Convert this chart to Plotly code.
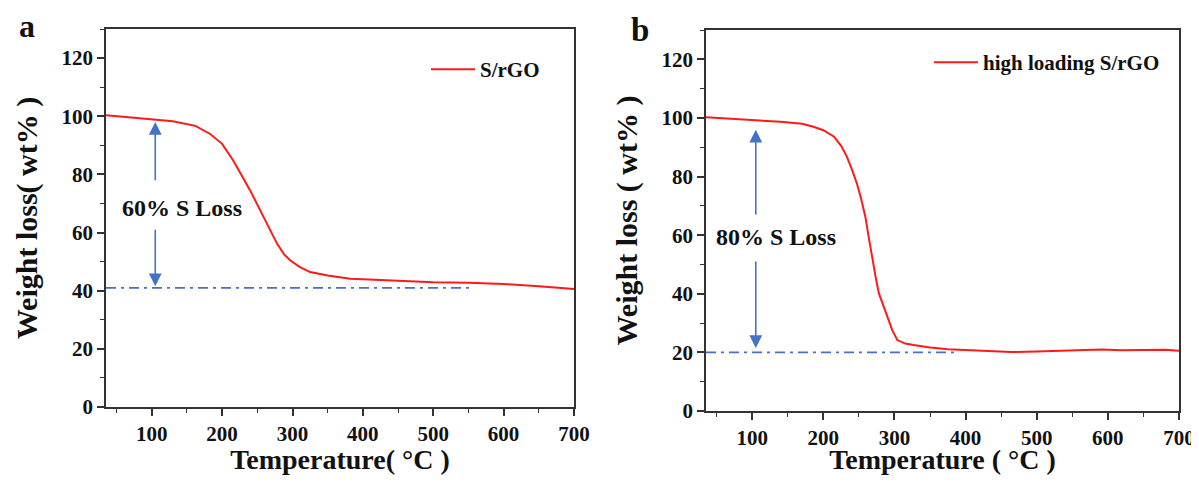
import plotly.graph_objects as go

# TGA curves
temp_a = [35, 60, 98, 130, 162, 183, 200, 216, 228, 240, 259, 278, 288, 297, 310,
          325, 350, 382, 400, 450, 500, 550, 600, 650, 700]
weight_a = [100.3, 99.8, 98.8, 98.3, 96.7, 93.9, 90.5, 84.7, 79.5, 74.4, 65.3, 56.2,
            52.5, 50.4, 48.2, 46.4, 45.2, 44.1, 43.9, 43.3, 42.9, 42.7, 42.3, 41.5, 40.6]

temp_b = [35, 60, 100, 140, 170, 186, 200, 215, 225, 233, 240, 247, 253, 259, 264,
          269, 274, 278, 284, 290, 297, 304, 315, 327, 350, 375, 400, 430, 464, 500,
          550, 591, 620, 650, 680, 700]
weight_b = [100.2, 99.9, 99.2, 98.7, 98.0, 97.0, 95.8, 93.6, 90.5, 86.8, 82.5, 77.7,
            72.5, 66.3, 59.0, 51.5, 45.0, 40.2, 36.0, 32.2, 27.5, 24.2, 23.0, 22.5,
            21.7, 21.1, 20.8, 20.4, 20.1, 20.3, 20.6, 21.0, 20.7, 20.8, 20.9, 20.6]

# residual levels (dash-dot guides) and loss arrows
resid_a_x = [35, 555]
resid_a_y = [41, 41]
resid_b_x = [35, 390]
resid_b_y = [20, 20]

arrow_x = 105
arrows_a = [(77.5, 98.0), (61.5, 41.5)]   # (tail, head)
arrows_b = [(66.5, 96.0), (51.5, 21.5)]

RED = "#ff1a1a"
BLUE = "#4472c4"
FONT = "Liberation Serif"
DASHDOT = "10px,5px,3px,5px"

# the page body adds an 8px margin, so the figure is a bit smaller than the window
OFF = 8
W, H = 1199 - OFF, 483 - 2 * OFF


def fx(px):
    return (px - OFF) / W


def fy(py):
    return 1 - (py - OFF) / H


def bold(size):
    return dict(family=FONT, size=size, color="#111111", weight="bold")


fig = go.Figure()
fig.add_trace(go.Scatter(x=temp_a, y=weight_a, mode="lines", name="S/rGO",
                         line=dict(color=RED, width=2), xaxis="x", yaxis="y",
                         legend="legend"))
fig.add_trace(go.Scatter(x=resid_a_x, y=resid_a_y, mode="lines", showlegend=False,
                         line=dict(color=BLUE, width=1.8, dash=DASHDOT),
                         xaxis="x", yaxis="y"))
fig.add_trace(go.Scatter(x=temp_b, y=weight_b, mode="lines", name="high loading S/rGO",
                         line=dict(color=RED, width=2), xaxis="x2", yaxis="y2",
                         legend="legend2"))
fig.add_trace(go.Scatter(x=resid_b_x, y=resid_b_y, mode="lines", showlegend=False,
                         line=dict(color=BLUE, width=1.8, dash=DASHDOT),
                         xaxis="x2", yaxis="y2"))

axis_common = dict(
    showline=True, linecolor="#333333", linewidth=1.6, mirror=True,
    ticks="outside", ticklen=7, tickwidth=1.5, tickcolor="#333333",
    showgrid=False, zeroline=False, automargin=False,
    tickfont=bold(21),
    minor=dict(ticks="outside", ticklen=4, tickwidth=1.3, tickcolor="#333333"),
)

fig.update_layout(
    width=W, height=H,
    margin=dict(l=0, r=0, t=0, b=0),
    paper_bgcolor="white", plot_bgcolor="white",
    xaxis=dict(axis_common, domain=[fx(106), fx(574)], range=[35, 700],
               dtick=100, minor_dtick=50, anchor="y",
               title=dict(text="Temperature( °C )", font=bold(28))),
    yaxis=dict(axis_common, domain=[fy(407), fy(29)], range=[0, 130],
               dtick=20, minor_dtick=10, anchor="x",
               title=dict(text="Weight loss( wt% )", font=bold(30))),
    xaxis2=dict(axis_common, domain=[fx(706), fx(1179)], range=[35, 700],
                dtick=100, minor_dtick=50, anchor="y2",
                title=dict(text="Temperature ( °C )", font=bold(28))),
    yaxis2=dict(axis_common, domain=[fy(411), fy(30)], range=[0, 130],
                dtick=20, minor_dtick=10, anchor="x2",
                title=dict(text="Weight loss ( wt% )", font=bold(30))),
    legend=dict(x=fx(426), y=fy(49), xanchor="left", yanchor="top",
                bgcolor="rgba(0,0,0,0)", itemwidth=44, font=bold(21)),
    legend2=dict(x=fx(929), y=fy(42), xanchor="left", yanchor="top",
                 bgcolor="rgba(0,0,0,0)", itemwidth=44, font=bold(21)),
)

ann = []
for tail, head in arrows_a:
    ann.append(dict(x=arrow_x, y=head, ax=arrow_x, ay=tail, xref="x", yref="y",
                    axref="x", ayref="y", text="", showarrow=True, arrowhead=2,
                    arrowsize=1.6, arrowwidth=1.6, arrowcolor=BLUE))
for tail, head in arrows_b:
    ann.append(dict(x=arrow_x, y=head, ax=arrow_x, ay=tail, xref="x2", yref="y2",
                    axref="x2", ayref="y2", text="", showarrow=True, arrowhead=2,
                    arrowsize=1.6, arrowwidth=1.6, arrowcolor=BLUE))
ann.append(dict(x=143, y=68.3, xref="x", yref="y", text="60% S Loss", showarrow=False,
                font=bold(24)))
ann.append(dict(x=134, y=59.4, xref="x2", yref="y2", text="80% S Loss", showarrow=False,
                font=bold(24)))
ann.append(dict(x=fx(27), y=fy(26), xref="paper", yref="paper", text="a",
                xanchor="center", yanchor="middle", showarrow=False, font=bold(32)))
ann.append(dict(x=fx(640), y=fy(30), xref="paper", yref="paper", text="b",
                xanchor="center", yanchor="middle", showarrow=False, font=bold(33)))
fig.update_layout(annotations=ann)

fig.write_html("out.html")
